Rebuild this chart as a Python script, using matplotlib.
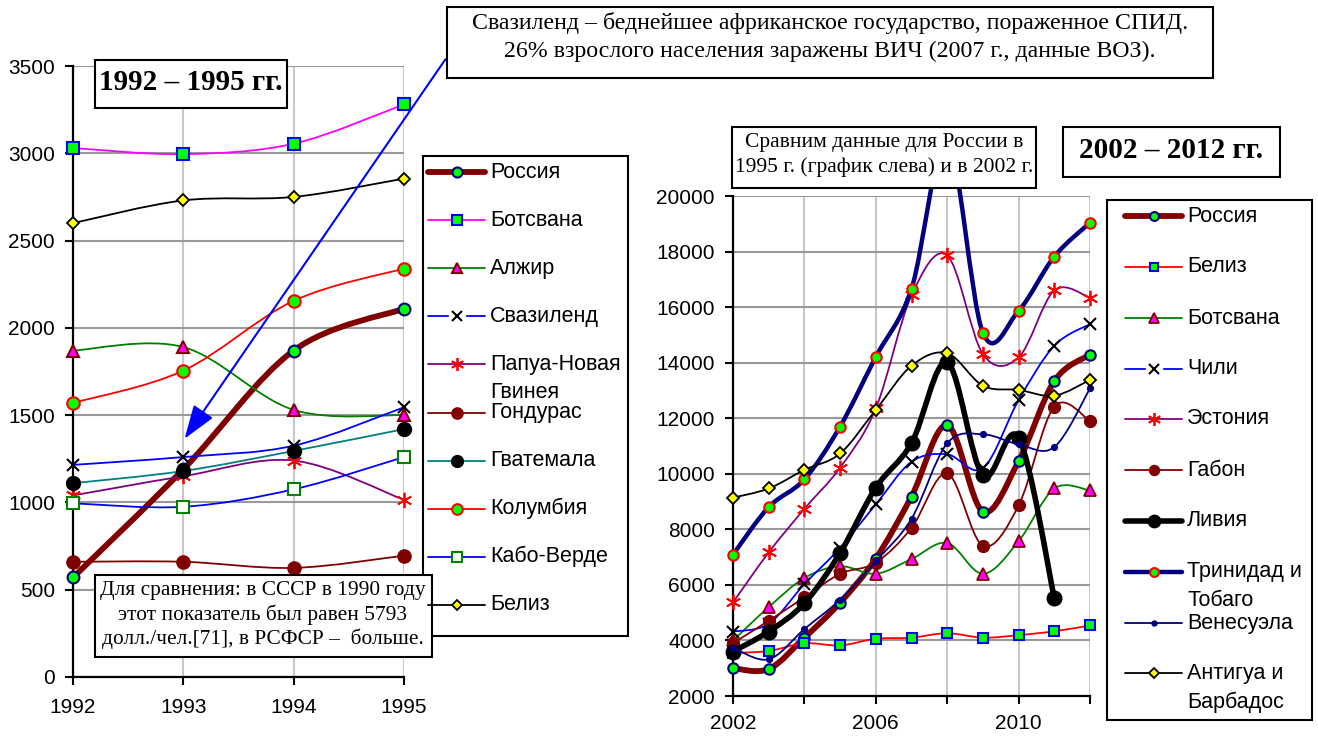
import numpy as np
import matplotlib
matplotlib.use("Agg")
import matplotlib.pyplot as plt
from matplotlib.path import Path
from matplotlib.patches import PathPatch, Rectangle, FancyArrowPatch

plt.rcParams['font.family'] = ['Liberation Sans', 'DejaVu Sans']

# ---------------- data: 1992-1995 ----------------
years_left = [1992, 1993, 1994, 1995]
russia_9295 = [570, 1190, 1870, 2110]
botswana_9295 = [3030, 2995, 3055, 3280]
algeria_9295 = [1870, 1890, 1530, 1500]
swaziland_9295 = [1215, 1260, 1325, 1545]
png_9295 = [1040, 1150, 1240, 1015]
honduras_9295 = [660, 660, 625, 695]
guatemala_9295 = [1110, 1180, 1295, 1420]
colombia_9295 = [1570, 1755, 2155, 2340]
capeverde_9295 = [995, 975, 1075, 1260]
belize_9295 = [2600, 2730, 2750, 2855]

left_labels = ['Россия', 'Ботсвана', 'Алжир', 'Свазиленд', 'Папуа-Новая\nГвинея',
               'Гондурас', 'Гватемала', 'Колумбия', 'Кабо-Верде', 'Белиз']

# ---------------- data: 2002-2012 ----------------
years_right = list(range(2002, 2013))
russia_0212 = [3000, 2970, 4100, 5360, 6950, 9180, 11750, 8640, 10450, 13340, 14290]
belize_0212 = [3550, 3620, 3900, 3820, 4060, 4100, 4260, 4100, 4190, 4330, 4540]
botswana_0212 = [4000, 5200, 6250, 6670, 6400, 6930, 7510, 6400, 7570, 9470, 9400]
chile_0212 = [4320, 4600, 6030, 7330, 8900, 10430, 10700, 10200, 12650, 14610, 15390]
estonia_0212 = [5370, 7170, 8740, 10220, 12350, 16420, 17860, 14310, 14190, 16600, 16330]
gabon_0212 = [3900, 4710, 5550, 6400, 6800, 8050, 10010, 7410, 8860, 12420, 11900]
libya_0212 = [3600, 4320, 5340, 7150, 9500, 11100, 14010, 9940, 11300, 5530, np.nan]
trinidad_0212 = [7090, 8800, 9800, 11700, 14210, 16660, 22000, 15070, 15870, 17820, 19040]
venezuela_0212 = [3740, 3320, 4410, 5470, 6850, 8380, 11100, 11420, 11060, 10960, 13070]
antigua_0212 = [9140, 9470, 10140, 10730, 12300, 13890, 14340, 13170, 13020, 12810, 13380]

right_labels = ['Россия', 'Белиз', 'Ботсвана', 'Чили', 'Эстония', 'Габон', 'Ливия',
                'Тринидад и\nТобаго', 'Венесуэла', 'Антигуа и\nБарбадос']

W, H = 1318, 736
fig = plt.figure(figsize=(W / 100, H / 100), dpi=100)

GREEN = '#00ff00'
MAROON = '#800000'
NAVY = '#000080'

left_styles = [
    dict(c=MAROON, lw=4.2, m='o', ms=8.5, mfc=GREEN, mec=NAVY, mew=1.5),
    dict(c='#ff00ff', lw=1.3, m='s', ms=8.5, mfc=GREEN, mec='#0000ff', mew=1.5),
    dict(c='#008000', lw=1.3, m='^', ms=9, mfc='#ff00ff', mec=MAROON, mew=1.5),
    dict(c='#0000ff', lw=1.3, m='x', ms=9, mfc='none', mec='black', mew=1.5, gap=True),
    dict(c='#800080', lw=1.3, m=(6, 2, 0), ms=11, mfc='none', mec='#ff0000', mew=1.3),
    dict(c=MAROON, lw=1.3, m='o', ms=9.5, mfc=MAROON, mec=MAROON, mew=1),
    dict(c='#008080', lw=1.3, m='o', ms=10, mfc='black', mec='black', mew=1),
    dict(c='#ff0000', lw=1.3, m='o', ms=9, mfc=GREEN, mec='#ff0000', mew=1.5),
    dict(c='#0000ff', lw=1.3, m='s', ms=8.5, mfc='white', mec='#008000', mew=1.5),
    dict(c='black', lw=1.3, m='D', ms=6.5, mfc='#ffff00', mec='black', mew=1.3),
]
left_series = [russia_9295, botswana_9295, algeria_9295, swaziland_9295, png_9295,
               honduras_9295, guatemala_9295, colombia_9295, capeverde_9295, belize_9295]

right_styles = [
    dict(c=MAROON, lw=4.2, m='o', ms=7.5, mfc=GREEN, mec=NAVY, mew=1.5),
    dict(c='#ff0000', lw=1.3, m='s', ms=7.5, mfc=GREEN, mec='#0000ff', mew=1.5),
    dict(c='#008000', lw=1.3, m='^', ms=8.5, mfc='#ff00ff', mec=MAROON, mew=1.3),
    dict(c='#0000ff', lw=1.3, m='x', ms=9, mfc='none', mec='black', mew=1.5, gap=True),
    dict(c='#800080', lw=1.3, m=(6, 2, 0), ms=11, mfc='none', mec='#ff0000', mew=1.3),
    dict(c=MAROON, lw=1.3, m='o', ms=8.5, mfc=MAROON, mec=MAROON, mew=1),
    dict(c='black', lw=4.0, m='o', ms=10.5, mfc='black', mec='black', mew=1),
    dict(c=NAVY, lw=3.2, m='o', ms=7.5, mfc=GREEN, mec='#ff0000', mew=1.5),
    dict(c=NAVY, lw=1.3, m='o', ms=4.2, mfc=NAVY, mec=NAVY, mew=1),
    dict(c='black', lw=1.3, m='D', ms=6.5, mfc='#ffff00', mec='black', mew=1.3),
]
right_series = [russia_0212, belize_0212, botswana_0212, chile_0212, estonia_0212,
                gabon_0212, libya_0212, trinidad_0212, venezuela_0212, antigua_0212]


def smooth_path(xs, ys):
    xs = np.asarray(xs, float)
    ys = np.asarray(ys, float)
    ok = ~np.isnan(ys)
    pts = np.column_stack([xs[ok], ys[ok]])
    n = len(pts)
    verts = [pts[0]]
    codes = [Path.MOVETO]
    for i in range(n - 1):
        p0 = pts[max(i - 1, 0)]
        p1 = pts[i]
        p2 = pts[i + 1]
        p3 = pts[min(i + 2, n - 1)]
        c1 = p1 + (p2 - p0) / 6.0
        c2 = p2 - (p3 - p1) / 6.0
        verts += [c1, c2, p2]
        codes += [Path.CURVE4] * 3
    return Path(verts, codes)


def draw_series(ax, xs, ys, st, z):
    ax.add_patch(PathPatch(smooth_path(xs, ys), fill=False, edgecolor=st['c'],
                           lw=st['lw'], capstyle='round', joinstyle='round',
                           clip_on=False, zorder=z))
    ax.plot(xs, ys, ls='none', marker=st['m'], ms=st['ms'], mfc=st['mfc'],
            mec=st['mec'], mew=st['mew'], clip_on=False, zorder=z + 0.5)


def style_axes(ax):
    for s in ['top', 'right']:
        ax.spines[s].set_visible(False)
    for s in ['left', 'bottom']:
        ax.spines[s].set_linewidth(1.6)
        ax.spines[s].set_color('black')
        ax.spines[s].set_zorder(1.5)
    ax.grid(axis='y', color='#999999', lw=1.5)
    ax.grid(axis='x', color='#c8c8c8', lw=1.5)
    ax.set_axisbelow(True)
    ax.tick_params(direction='out', length=6, width=1.5, labelsize=15, color='black')


# ---------------- left chart ----------------
axL = fig.add_axes([73 / W, 1 - 677 / H, 331 / W, 611 / H])
axL.set_xlim(1992, 1995)
axL.set_ylim(0, 3500)
axL.set_yticks(np.arange(0, 3501, 500))
axL.set_xticks(years_left)
style_axes(axL)
axL.tick_params(axis='y', pad=7)
axL.tick_params(axis='x', pad=9)
for i, (ys, st) in enumerate(zip(left_series, left_styles)):
    draw_series(axL, years_left, ys, st, 2 + i)

# ---------------- right chart ----------------
axR = fig.add_axes([733 / W, 1 - 696 / H, 357 / W, 500 / H])
axR.set_xlim(2002, 2012)
axR.set_ylim(2000, 20000)
axR.set_yticks(np.arange(2000, 20001, 2000))
axR.set_xticks(np.arange(2002, 2013, 2))
axR.set_xticklabels([str(y) if (y - 2002) % 4 == 0 else '' for y in range(2002, 2013, 2)])
style_axes(axR)
axR.tick_params(axis='y', pad=7)
axR.tick_params(axis='x', pad=7)
for i, (ys, st) in enumerate(zip(right_series, right_styles)):
    draw_series(axR, years_right, ys, st, 2 + i)

# ---------------- overlay (legends, notes) ----------------
ov = fig.add_axes([0, 0, 1, 1], zorder=10)
ov.set_xlim(0, W)
ov.set_ylim(H, 0)
ov.axis('off')
ov.patch.set_alpha(0)

SERIF = ['Liberation Serif', 'DejaVu Serif']


def box(x0, y0, x1, y1, lw=1.5):
    ov.add_patch(Rectangle((x0, y0), x1 - x0, y1 - y0, facecolor='white',
                           edgecolor='black', lw=lw, zorder=20))


def legend(x0, y0, x1, y1, lx0, lx1, tx, rows, labels, styles, line_gap):
    box(x0, y0, x1, y1)
    for y, lab, st in zip(rows, labels, styles):
        xm = (lx0 + lx1) / 2
        ov.plot([lx0, lx1], [y, y], color=st['c'], lw=st['lw'],
                solid_capstyle='round', zorder=21)
        if st.get('gap'):
            ov.plot([xm], [y], ls='none', marker='s', ms=st['ms'] + 2, mfc='white',
                    mec='white', zorder=21.5)
        ov.plot([xm], [y], ls='none', marker=st['m'], ms=st['ms'] * 0.85,
                mfc=st['mfc'], mec=st['mec'], mew=st['mew'], zorder=22)
        for k, part in enumerate(lab.split('\n')):
            ov.text(tx, y + k * line_gap, part, fontsize=15.5, ha='left', va='center',
                    zorder=22)


left_rows = [172 + 48.1 * i for i in range(10)]
legend(423, 156, 628, 636, 428, 485, 490, left_rows, left_labels, left_styles, 28)

right_rows = [216, 267, 318, 369, 419, 470, 521, 572, 623, 673]
legend(1107, 200, 1312, 720, 1125, 1182, 1187, right_rows, right_labels, right_styles, 29)

# arrow from top note to Swaziland 1993
ov.add_patch(FancyArrowPatch((447, 57), (183, 441),
                             arrowstyle='-|>,head_length=1.3,head_width=0.45',
                             mutation_scale=16, color='#0000ff', lw=1.5, zorder=19))

# top note
box(447, 7, 1213, 78)
ov.text(830, 23, 'Свазиленд – беднейшее африканское государство, пораженное СПИД.',
        fontsize=17.2, family=SERIF, ha='center', va='center', zorder=22)
ov.text(830, 51, '26% взрослого населения заражены ВИЧ (2007 г., данные ВОЗ).',
        fontsize=17.2, family=SERIF, ha='center', va='center', zorder=22)

# left title
box(95, 60, 287, 108)
ov.text(191, 83, '1992 – 1995 гг.', fontsize=21, family=SERIF, weight='bold',
        ha='center', va='center', zorder=22)

# right title
box(1063, 127, 1280, 177)
ov.text(1171, 151, '2002 – 2012 гг.', fontsize=21, family=SERIF, weight='bold',
        ha='center', va='center', zorder=22)

# compare note (right)
box(732, 127, 1036, 188)
ov.text(884, 143, 'Сравним данные для России в', fontsize=15.5, family=SERIF,
        ha='center', va='center', zorder=22)
ov.text(884, 167, '1995 г. (график слева) и в 2002 г.', fontsize=15.5, family=SERIF,
        ha='center', va='center', zorder=22)

# USSR note (left)
box(95, 575, 432, 657)
for k, line in enumerate(['Для сравнения: в СССР в 1990 году',
                          'этот показатель был равен 5793',
                          'долл./чел.[71], в РСФСР –  больше.']):
    ov.text(263, 590 + 24.5 * k, line, fontsize=15.4, family=SERIF,
            ha='center', va='center', zorder=22)

fig.savefig('out.png', dpi=100, facecolor='white')
